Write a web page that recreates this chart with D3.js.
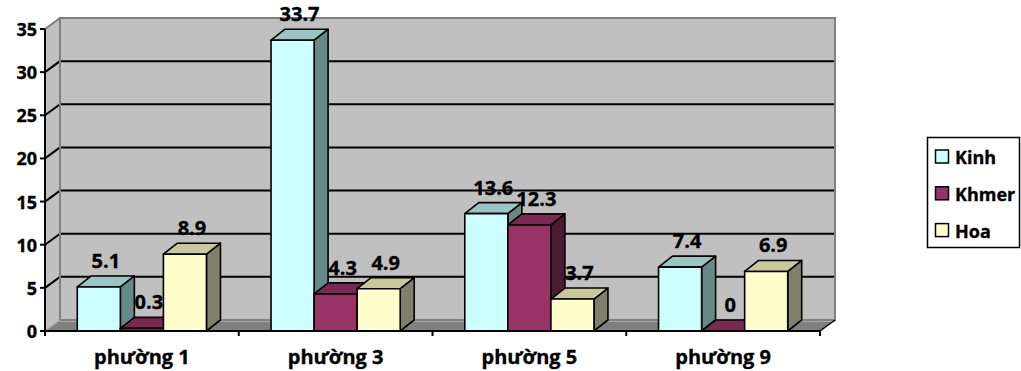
<!DOCTYPE html>
<html>
<head>
<meta charset="utf-8">
<script src="https://cdn.jsdelivr.net/npm/d3@7"></script>
<style>
  html, body { margin: 0; padding: 0; background: #fff; }
  svg { display: block; }
  text { font-family: "Open Sans", "Noto Sans", sans-serif; font-weight: bold; fill: #000; stroke: #000; stroke-width: 0.35px; }
</style>
</head>
<body>
<svg id="chart" width="1021" height="371"></svg>
<script>
// Population share by ethnic group in each ward (%)
const categories = ["phường 1", "phường 3", "phường 5", "phường 9"];
const seriesNames = ["Kinh", "Khmer", "Hoa"];
const kinhValues = [5.1, 33.7, 13.6, 7.4];
const khmerValues = [0.3, 4.3, 12.3, 0];
const hoaValues = [8.9, 4.9, 3.7, 6.9];
const yTickValues = [0, 5, 10, 15, 20, 25, 30, 35];

const seriesValues = [kinhValues, khmerValues, hoaValues];

// face colours per series: front, top, side
const palette = {
  Kinh:  { front: "#CCFFFF", top: "#99C6C4", side: "#668A88" },
  Khmer: { front: "#993366", top: "#7A2952", side: "#4D1A33" },
  Hoa:   { front: "#FFFFCC", top: "#C8C89C", side: "#80806A" }
};

const svg = d3.select("#chart");

// front plane geometry
const plotLeft = 45, plotRight = 820, plotBottom = 331, plotTop = 29;
// depth offset of the walls and of the bars
const wallDx = 15, wallDy = -11;
const barDx = 14, barDy = -11;

const y = d3.scaleLinear().domain([0, 35]).range([plotBottom, plotTop]);
const x0 = d3.scaleBand().domain(categories).range([plotLeft, plotRight]).padding(0);
const x1 = d3.scaleBand().domain(seriesNames).range([0, x0.bandwidth()])
  .paddingInner(0).paddingOuter(0.75);

const poly = pts => pts.map(p => p.join(",")).join(" ");

// back wall
svg.append("rect")
  .attr("x", plotLeft + wallDx).attr("y", plotTop + wallDy)
  .attr("width", plotRight - plotLeft).attr("height", plotBottom - plotTop)
  .attr("fill", "#C0C0C0");

// left wall
svg.append("polygon")
  .attr("points", poly([[plotLeft, plotBottom], [plotLeft, plotTop], [plotLeft + wallDx, plotTop + wallDy], [plotLeft + wallDx, plotBottom + wallDy]]))
  .attr("fill", "#C0C0C0");

// floor
svg.append("polygon")
  .attr("points", poly([[plotLeft, plotBottom], [plotRight, plotBottom], [plotRight + wallDx, plotBottom + wallDy], [plotLeft + wallDx, plotBottom + wallDy]]))
  .attr("fill", "#808080");
svg.append("line")
  .attr("x1", plotLeft + wallDx).attr("x2", plotRight + wallDx)
  .attr("y1", plotBottom + wallDy + 1).attr("y2", plotBottom + wallDy + 1)
  .attr("stroke", "#A8A8A8").attr("stroke-width", 2);

// gridlines on back and left walls
const grid = svg.append("g");
yTickValues.filter(v => v > 0 && v < 35).forEach(v => {
  grid.append("line")
    .attr("x1", plotLeft + wallDx).attr("x2", plotRight + wallDx)
    .attr("y1", y(v) + wallDy).attr("y2", y(v) + wallDy)
    .attr("stroke", "#000").attr("stroke-width", 2);
  grid.append("line")
    .attr("x1", plotLeft).attr("x2", plotLeft + wallDx)
    .attr("y1", y(v)).attr("y2", y(v) + wallDy)
    .attr("stroke", "#000").attr("stroke-width", 2);
});

// wall borders
svg.append("rect")
  .attr("x", plotLeft + wallDx).attr("y", plotTop + wallDy)
  .attr("width", plotRight - plotLeft).attr("height", plotBottom - plotTop)
  .attr("fill", "none").attr("stroke", "#808080").attr("stroke-width", 2);
svg.append("line")
  .attr("x1", plotLeft).attr("x2", plotLeft + wallDx)
  .attr("y1", plotTop).attr("y2", plotTop + wallDy)
  .attr("stroke", "#808080").attr("stroke-width", 2);
svg.append("line")
  .attr("x1", plotLeft).attr("x2", plotLeft + wallDx)
  .attr("y1", plotBottom).attr("y2", plotBottom + wallDy)
  .attr("stroke", "#A8A8A8").attr("stroke-width", 1.5);
svg.append("line")
  .attr("x1", plotRight).attr("x2", plotRight + wallDx)
  .attr("y1", plotBottom).attr("y2", plotBottom + wallDy)
  .attr("stroke", "#000").attr("stroke-width", 1.5);

// bars: drawn left to right so each front face covers the previous side face
const bars = svg.append("g");
categories.forEach((cat, ci) => {
  seriesNames.forEach((s, si) => {
    const v = seriesValues[si][ci];
    const bx = x0(cat) + x1(s);
    const bw = x1.bandwidth();
    const yt = y(v);
    const c = palette[s];
    const g = bars.append("g").attr("stroke", "#000").attr("stroke-width", 1.6).attr("stroke-linejoin", "round");
    g.append("polygon")
      .attr("points", poly([[bx + bw, plotBottom], [bx + bw, yt], [bx + bw + barDx, yt + barDy], [bx + bw + barDx, plotBottom + barDy]]))
      .attr("fill", c.side);
    g.append("polygon")
      .attr("points", poly([[bx, yt], [bx + bw, yt], [bx + bw + barDx, yt + barDy], [bx + barDx, yt + barDy]]))
      .attr("fill", c.top);
    if (v > 0) {
      g.append("rect")
        .attr("x", bx).attr("y", yt)
        .attr("width", bw).attr("height", plotBottom - yt)
        .attr("fill", c.front);
    }
  });
});

// value labels
const labels = svg.append("g");
categories.forEach((cat, ci) => {
  seriesNames.forEach((s, si) => {
    const v = seriesValues[si][ci];
    labels.append("text")
      .attr("x", x0(cat) + x1(s) + x1.bandwidth() / 2 + 7)
      .attr("y", y(v) - 19)
      .attr("text-anchor", "middle")
      .style("font-size", "20px")
      .text(String(v));
  });
});

// value axis
const yAxis = svg.append("g");
yAxis.append("line")
  .attr("x1", plotLeft).attr("x2", plotLeft).attr("y1", plotBottom).attr("y2", plotTop)
  .attr("stroke", "#000").attr("stroke-width", 2);
yTickValues.forEach(v => {
  yAxis.append("line")
    .attr("x1", plotLeft - 5).attr("x2", plotLeft).attr("y1", y(v)).attr("y2", y(v))
    .attr("stroke", "#000").attr("stroke-width", 2);
  yAxis.append("text")
    .attr("x", 37).attr("y", y(v))
    .attr("text-anchor", "end").attr("dominant-baseline", "central")
    .style("font-size", "18px")
    .text(v);
});

// category axis
const xAxis = svg.append("g");
xAxis.append("line")
  .attr("x1", plotLeft).attr("x2", plotRight).attr("y1", plotBottom).attr("y2", plotBottom)
  .attr("stroke", "#000").attr("stroke-width", 2);
const tickXs = categories.map(c => x0(c)).concat([plotRight]);
tickXs.forEach(tx => {
  xAxis.append("line")
    .attr("x1", tx).attr("x2", tx).attr("y1", plotBottom).attr("y2", plotBottom + 5)
    .attr("stroke", "#000").attr("stroke-width", 2);
});
categories.forEach(c => {
  xAxis.append("text")
    .attr("x", x0(c) + x0.bandwidth() / 2)
    .attr("y", 364)
    .attr("text-anchor", "middle")
    .style("font-size", "20px")
    .text(c);
});

// legend
const legend = svg.append("g");
legend.append("rect")
  .attr("x", 927.5).attr("y", 137.5).attr("width", 92).attr("height", 110)
  .attr("fill", "#fff").attr("stroke", "#000").attr("stroke-width", 1.5);
seriesNames.forEach((s, i) => {
  const cy = 157 + i * 36.8;
  legend.append("rect")
    .attr("x", 935.5).attr("y", cy - 7).attr("width", 13).attr("height", 13)
    .attr("fill", palette[s].front).attr("stroke", "#000").attr("stroke-width", 1.5);
  legend.append("text")
    .attr("x", 955).attr("y", cy)
    .attr("dominant-baseline", "central")
    .style("font-size", "18px")
    .text(s);
});
</script>
</body>
</html>
